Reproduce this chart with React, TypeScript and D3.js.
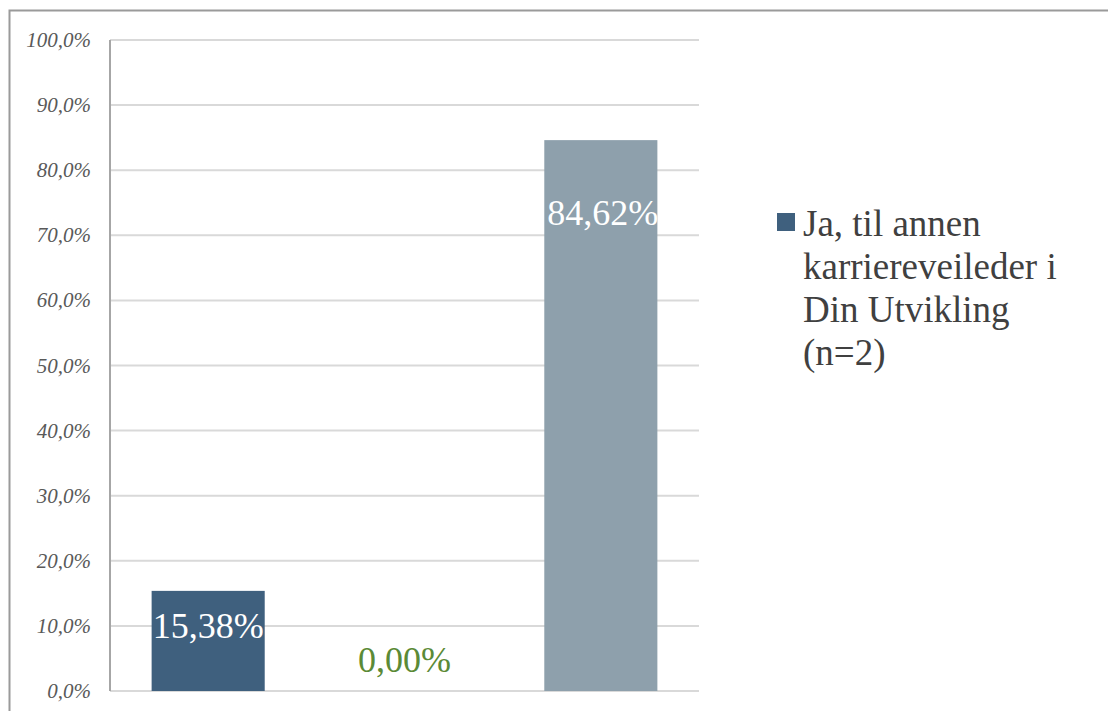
import React from "react";
import * as d3 from "d3";

const categories = ["A", "B", "C"];
const values = [15.38, 0.0, 84.62];
const barColors = ["#3f607e", "#5b8a36", "#8ea0ac"];
const labelColors = ["#ffffff", "#5b8a36", "#ffffff"];
const yTicks = [0, 10, 20, 30, 40, 50, 60, 70, 80, 90, 100];
const legendLines = ["Ja, til annen", "karriereveileder i", "Din Utvikling", "(n=2)"];

const W = 1108;
const H = 711;
const plot = { left: 110, right: 699, top: 40, bottom: 691 };
const fmtTick = (v: number) => v.toFixed(1).replace(".", ",") + "%";
const fmtVal = (v: number) => v.toFixed(2).replace(".", ",") + "%";

export default function App() {
  const x = d3
    .scaleBand<string>()
    .domain(categories)
    .range([plot.left, plot.right])
    .paddingInner(0.424)
    .paddingOuter(0.212);
  const y = d3.scaleLinear().domain([0, 100]).range([plot.bottom, plot.top]);
  const font = '"Liberation Serif", "Tinos", "Times New Roman", "DejaVu Serif", serif';

  return (
    <svg
      width={W}
      height={H}
      style={{ position: "absolute", left: 0, top: 0, background: "#fff", fontFamily: font }}
    >
      <rect x={9.5} y={10.5} width={W + 20} height={H + 20} fill="#fff" stroke="#9a9a9a" strokeWidth={2} />
      {yTicks.map((t) => (
        <g key={t}>
          <line x1={plot.left} x2={plot.right} y1={y(t)} y2={y(t)} stroke="#d9d9d9" strokeWidth={2} />
          <text
            x={91}
            y={y(t) + 7}
            textAnchor="end"
            fontSize={21}
            fontStyle="italic"
            fill="#595959"
            style={{ fontFamily: font }}
          >
            {fmtTick(t)}
          </text>
        </g>
      ))}
      <line x1={plot.left} x2={plot.left} y1={plot.top} y2={plot.bottom} stroke="#a6a6a6" strokeWidth={2} />
      {categories.map((c, i) => {
        const bx = x(c)!;
        const bw = x.bandwidth();
        const top = y(values[i]);
        const isTop = values[i] > 50;
        const ly = values[i] === 0 ? plot.bottom - 19 : isTop ? top + 85 : y(10) + 12;
        return (
          <g key={c}>
            {values[i] > 0 && (
              <rect x={bx} y={top} width={bw} height={plot.bottom - top} fill={barColors[i]} />
            )}
            <text
              x={bx + bw / 2 + (isTop ? 2 : 0)}
              y={ly}
              textAnchor="middle"
              fontSize={36}
              fill={labelColors[i]}
              style={{ fontFamily: font }}
            >
              {fmtVal(values[i])}
            </text>
          </g>
        );
      })}
      <rect x={777} y={213} width={18} height={18} fill={barColors[0]} />
      {legendLines.map((l, i) => (
        <text key={i} x={803} y={236 + i * 43} fontSize={37} fill="#404040" style={{ fontFamily: font }}>
          {l}
        </text>
      ))}
    </svg>
  );
}
